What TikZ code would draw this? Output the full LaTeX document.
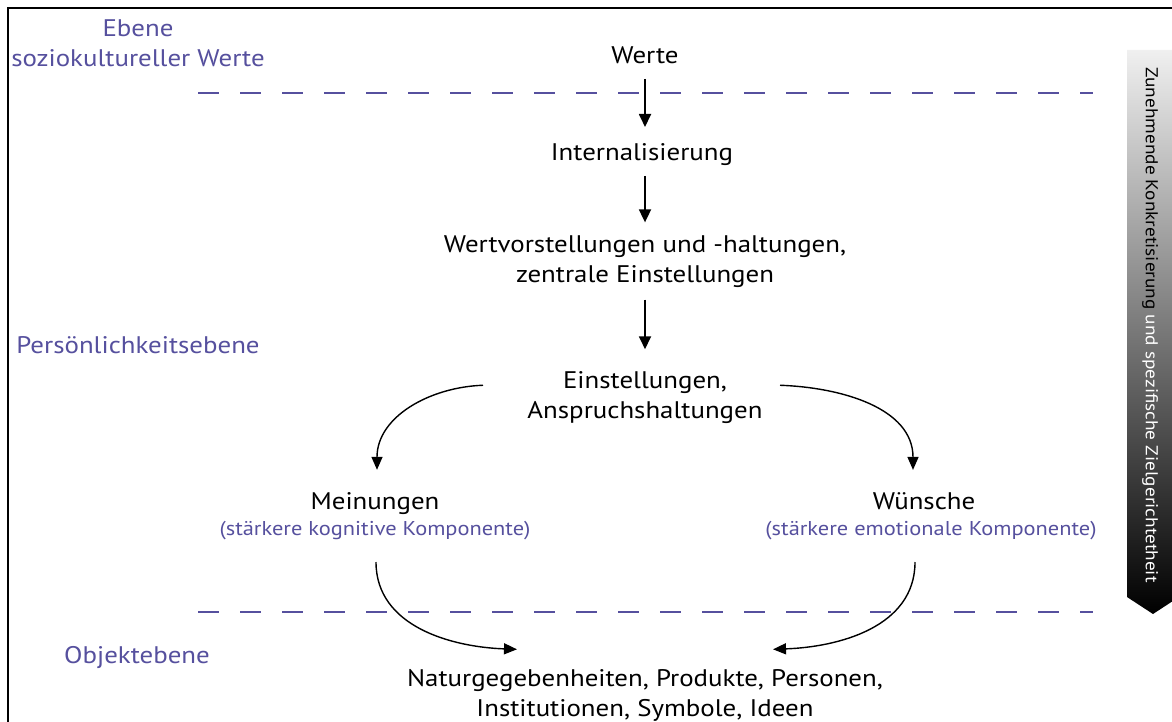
\documentclass[tikz,border=0pt]{standalone}
\usepackage{fontspec}
\setmainfont{PT Sans}[FakeStretch=1.12]
\usetikzlibrary{arrows.meta}
\definecolor{levelpurple}{RGB}{86,80,158}
\begin{document}
\begin{tikzpicture}[x=1pt,y=-1pt,
  main/.style={font=\fontsize{24}{30}\selectfont, inner sep=0pt, align=center},
  level/.style={font=\fontsize{24}{30}\selectfont, text=levelpurple, inner sep=0pt, align=center},
  note/.style={font=\fontsize{20}{24}\selectfont, text=levelpurple, inner sep=0pt},
  divider/.style={levelpurple, line width=2pt, dash pattern=on 21pt off 21pt},
  flow/.style={-{Triangle[length=13pt,width=12pt]}, line width=1.8pt},
  curvedflow/.style={-{Triangle[length=13pt,width=11pt]}, line width=1.4pt},
]
\useasboundingbox (0,0) rectangle (1172,722);
\fill[white] (0,0) rectangle (1172,722);

% frame (left and top edges)
\draw[line width=1.5pt] (8,722) -- (8,8) -- (1172,8);

% level dividers
\draw[divider] (198,93) -- (1093,93);
\draw[divider] (198,612) -- (1093,612);

% level labels
\node[level] (ebene) at (138,43) {Ebene\\soziokultureller Werte};
\node[level, anchor=base] (pers) at (138,353) {Persönlichkeitsebene};
\node[level, anchor=base] (objl) at (137,663) {Objektebene};

% main chain
\node[main, anchor=base] (werte) at (645,64) {Werte};
\node[main, anchor=base] (intern) at (642,161) {Internalisierung};
\node[main] (wert) at (645,261.5) {Wertvorstellungen und -haltungen,\\zentrale Einstellungen};
\node[main] (einst) at (645,397.5) {Einstellungen,\\Anspruchshaltungen};
\node[main, anchor=base] (mein) at (375,509) {Meinungen};
\node[note, anchor=base] (meinnote) at (375,535) {(stärkere kognitive Komponente)};
\node[main, anchor=base] (wuen) at (924,509) {Wünsche};
\node[note, anchor=base] (wuennote) at (931,535) {(stärkere emotionale Komponente)};
\node[main] (ziel) at (645,695.5) {Naturgegebenheiten, Produkte, Personen,\\Institutionen, Symbole, Ideen};

% straight connectors
\draw[flow] ([yshift=-15pt]werte.base) -- ([yshift=34pt]werte.base |- intern.base);
\draw[flow] ([yshift=-15pt]werte.base |- intern.base) -- ([yshift=13pt]werte.base |- wert.north);
\draw[flow] ([yshift=-12pt]werte.base |- wert.south) -- ([yshift=22pt]werte.base |- einst.north);

% branching connectors
\draw[curvedflow] ([xshift=-162pt,yshift=-14pt]einst.north) to[out=182,in=90] ([xshift=2pt,yshift=22pt]mein.north);
\draw[curvedflow] ([xshift=135pt,yshift=-14pt]einst.north) to[out=-2,in=90] ([xshift=-11pt,yshift=22pt]wuen.north);
\draw[curvedflow] ([xshift=1pt,yshift=-27pt]meinnote.base) to[out=-90,in=178] ([xshift=-128pt,yshift=20pt]ziel.north);
\draw[curvedflow] ([xshift=-9pt,yshift=-27pt]wuen.base |- wuennote.base) to[out=-90,in=2] ([xshift=128pt,yshift=20pt]ziel.north);

% side bar: increasing concreteness
\begin{scope}
  \clip (0,0) rectangle (1172,722);
  \shade[top color=black!6, bottom color=black]
    (1127,50) -- (1179,50) -- (1179,597) -- (1153,614) -- (1127,597) -- cycle;
  \node[rotate=-90, font=\fontsize{17.2}{21}\selectfont, inner sep=0pt] (side) at (1150,325)
    {Zunehmende Konkretisierung \textcolor{white}{und spezifische Zielgerichtetheit}};
\end{scope}
\end{tikzpicture}
\end{document}
